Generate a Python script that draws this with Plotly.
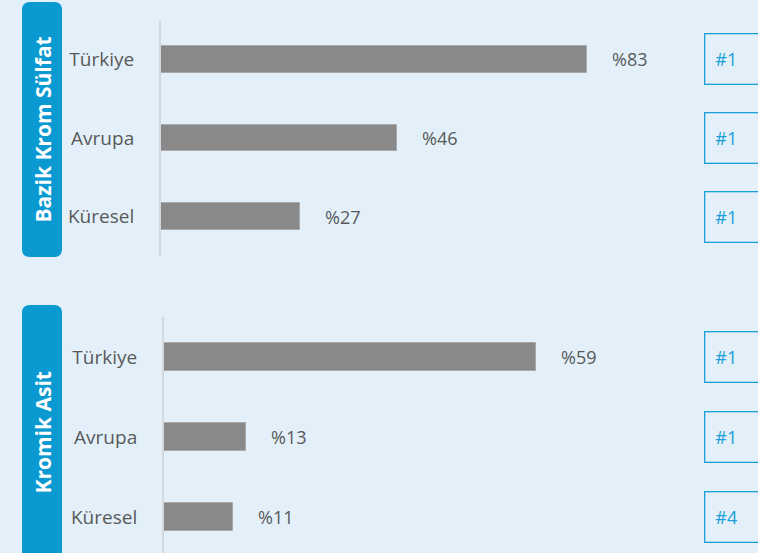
import plotly.graph_objects as go

W, H = 758, 553

categories = ["Türkiye", "Avrupa", "Küresel"]
bcs_values = [83, 46, 27]
ka_values = [59, 13, 11]
bcs_ranks = ["#1", "#1", "#1"]
ka_ranks = ["#1", "#1", "#4"]
panel_titles = ["Bazik Krom Sülfat", "Kromik Asit"]

FONT = "Open Sans"
BLUE = "#0b99d1"
BAR = "#898989"
TXT = "#595959"
BG = "#e3f0f9"

def px_x(p):
    return p / W

def px_y(p):
    return 1 - p / H

fig = go.Figure()

fig.add_trace(go.Bar(
    x=bcs_values, y=categories, orientation="h",
    marker=dict(color=BAR, line=dict(color="#a9a9a9", width=1)),
    width=0.34, xaxis="x", yaxis="y", hoverinfo="skip",
))
fig.add_trace(go.Bar(
    x=ka_values, y=categories, orientation="h",
    marker=dict(color=BAR, line=dict(color="#a9a9a9", width=1)),
    width=0.35, xaxis="x2", yaxis="y2", hoverinfo="skip",
))

annotations = []
for vals, xr, yr, ranks in [(bcs_values, "x", "y", bcs_ranks), (ka_values, "x2", "y2", ka_ranks)]:
    for c, v, r in zip(categories, vals, ranks):
        annotations.append(dict(
            x=v, y=c, xref=xr, yref=yr, text=f"%{v}", showarrow=False,
            xanchor="left", xshift=23, font=dict(family=FONT, size=18, color=TXT),
        ))
        annotations.append(dict(
            x=px_x(704), y=c, xref="paper", yref=yr, text=r, showarrow=False,
            xanchor="left", align="left", width=42, height=29, borderpad=10,
            bordercolor="#1aa0d8", borderwidth=1.3,
            font=dict(family=FONT, size=18, color="#1a9fd8"),
        ))

shapes = []
for (y0, y1), title in zip([(2, 257), (305, 565)], panel_titles):
    r = 8
    x0, x1 = 22, 62

    def P(x, y):
        return f"{px_x(x)} {px_y(y)}"

    path = (f"M {P(x0+r, y0)} L {P(x1-r, y0)} Q {P(x1, y0)} {P(x1, y0+r)} "
            f"L {P(x1, y1-r)} Q {P(x1, y1)} {P(x1-r, y1)} L {P(x0+r, y1)} "
            f"Q {P(x0, y1)} {P(x0, y1-r)} L {P(x0, y0+r)} Q {P(x0, y0)} {P(x0+r, y0)} Z")
    shapes.append(dict(type="path", path=path, xref="paper", yref="paper",
                       fillcolor=BLUE, line=dict(width=0), layer="above"))
    cy = (y0 + min(y1, 560)) / 2
    annotations.append(dict(
        x=px_x(42), y=px_y(cy), xref="paper", yref="paper", text=f"<b>{title}</b>",
        showarrow=False, textangle=-90, font=dict(family=FONT, size=21, color="white"),
        xanchor="center", yanchor="middle",
    ))

axis_y_common = dict(
    type="category", showgrid=False, zeroline=False, showline=True,
    linecolor="#d4d8dc", linewidth=2, ticks="outside", ticklen=21,
    tickcolor="rgba(0,0,0,0)", tickfont=dict(family=FONT, size=19, color=TXT),
)
axis_x_common = dict(visible=False, showgrid=False, zeroline=False)

fig.update_layout(
    width=W, height=H, margin=dict(l=0, r=0, t=0, b=0),
    paper_bgcolor=BG, plot_bgcolor="rgba(0,0,0,0)", showlegend=False,
    bargap=0,
    xaxis=dict(domain=[px_x(161), 1], range=[0, 597 / (426 / 83)], anchor="y", **axis_x_common),
    yaxis=dict(domain=[px_y(256), px_y(20)], range=[2.5, -0.5], anchor="x", **axis_y_common),
    xaxis2=dict(domain=[px_x(164), 1], range=[0, 594 / (372 / 59)], anchor="y2", **axis_x_common),
    yaxis2=dict(domain=[0, px_y(317)], range=[2.45, -0.5], anchor="x2", **axis_y_common),
    annotations=annotations, shapes=shapes,
)

fig.write_html("out.html", config={"displayModeBar": False},
               post_script="document.body.style.margin='0';")
